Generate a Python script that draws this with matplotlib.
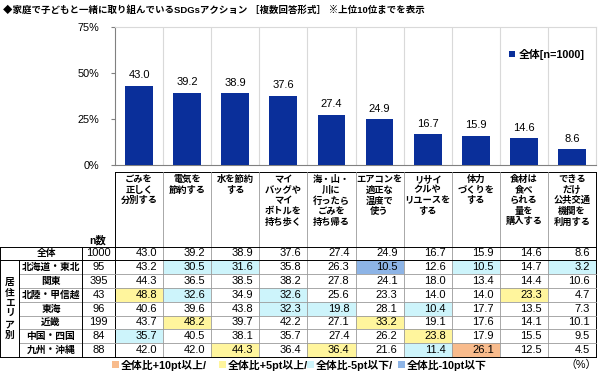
import matplotlib
matplotlib.use("Agg")
import matplotlib.pyplot as plt
from matplotlib.patches import Rectangle

plt.rcParams['font.family'] = ['Liberation Sans', 'Noto Sans CJK JP']

# data
actions = ["ごみを\n正しく\n分別する", "電気を\n節約する", "水を節約\nする",
           "マイ\nバッグや\nマイ\nボトルを\n持ち歩く", "海・山・\n川に\n行ったら\nごみを\n持ち帰る",
           "エアコンを\n適正な\n温度で\n使う", "リサイ\nクルや\nリユースを\nする",
           "体力\nづくりを\nする", "食材は\n食べ\nられる\n量を\n購入する",
           "できる\nだけ\n公共交通\n機関を\n利用する"]
total = [43.0, 39.2, 38.9, 37.6, 27.4, 24.9, 16.7, 15.9, 14.6, 8.6]
total_n = 1000

regions = ["北海道・東北", "関東", "北陸・甲信越", "東海", "近畿", "中国・四国", "九州・沖縄"]
region_n = [95, 395, 43, 96, 199, 84, 88]
hokkaido = [43.2, 30.5, 31.6, 35.8, 26.3, 10.5, 12.6, 10.5, 14.7, 3.2]
kanto = [44.3, 36.5, 38.5, 38.2, 27.8, 24.1, 18.0, 13.4, 14.4, 10.6]
hokuriku = [48.8, 32.6, 34.9, 32.6, 25.6, 23.3, 14.0, 14.0, 23.3, 4.7]
tokai = [40.6, 39.6, 43.8, 32.3, 19.8, 28.1, 10.4, 17.7, 13.5, 7.3]
kinki = [43.7, 48.2, 39.7, 42.2, 27.1, 33.2, 19.1, 17.6, 14.1, 10.1]
chugoku = [35.7, 40.5, 38.1, 35.7, 27.4, 26.2, 23.8, 17.9, 15.5, 9.5]
kyushu = [42.0, 42.0, 44.3, 36.4, 36.4, 21.6, 11.4, 26.1, 12.5, 4.5]
region_vals = [hokkaido, kanto, hokuriku, tokai, kinki, chugoku, kyushu]

BAR = "#0a2f9a"
C_UP10, C_UP5, C_DN5, C_DN10 = "#f8bb8c", "#fff59d", "#cdf4fb", "#8db4e6"

W, H = 600, 373
fig = plt.figure(figsize=(6, 3.73), dpi=100)

# pixel layout
x0, x1 = 115, 596
y_top, y_zero = 27, 165
colw = (x1 - x0) / 10

ax = fig.add_axes([x0 / W, 1 - y_zero / H, (x1 - x0) / W, (y_zero - y_top) / H])
xs = list(range(10))
bars = ax.bar(xs, total, width=0.58, color=BAR, label="全体[n=1000]", zorder=3)
for x, v in zip(xs, total):
    ax.text(x, v + 3, f"{v:.1f}", ha="center", va="bottom", fontsize=8)
ax.set_xlim(-0.5, 9.5)
ax.set_ylim(0, 75)
ax.set_yticks([0, 25, 50, 75])
ax.set_yticklabels(["0%", "25%", "50%", "75%"], fontsize=7.8)
ax.tick_params(axis="y", length=3, color="#808080", pad=8)
ax.set_xticks([])
for x in range(9):
    ax.axvline(x + 0.5, color="#d9d9d9", lw=0.8, zorder=1)
ax.spines["left"].set_color("#808080")
ax.spines["bottom"].set_color("#808080")
ax.spines["top"].set_color("#d9d9d9")
ax.spines["right"].set_color("#d9d9d9")
ax.legend(loc="upper right", bbox_to_anchor=(594 / W, 1 - 39 / H), bbox_transform=fig.transFigure,
          frameon=False, handlelength=0.55, handleheight=0.55, handletextpad=0.3,
          prop={"size": 7.8, "weight": "bold"})

# table overlay
t = fig.add_axes([0, 0, 1, 1])
t.set_xlim(0, W)
t.set_ylim(H, 0)
t.axis("off")

t.text(3, 10, "◆家庭で子どもと一緒に取り組んでいるSDGsアクション ［複数回答形式］ ※上位10位までを表示",
       fontsize=6.8, fontweight="bold", va="center", ha="left")

# header
h_top, h_bot = 172, 246.5
rowh = 13.8
for i, lab in enumerate(actions):
    t.text(x0 + colw * (i + 0.5), 175, lab, ha="center", va="top", fontsize=6.7,
           fontweight="bold", linespacing=1.22)
t.text(98, 240, "n数", ha="center", va="center", fontsize=7.5, fontweight="bold")

t_bot = h_bot + rowh * 8


def cell_color(d):
    if d >= 10 - 1e-9:
        return C_UP10
    if d >= 5 - 1e-9:
        return C_UP5
    if d <= -10 + 1e-9:
        return C_DN10
    if d <= -5 + 1e-9:
        return C_DN5
    return None


rows = [("全体", total_n, total)] + list(zip(regions, region_n, region_vals))
for r, (name, n, vals) in enumerate(rows):
    yc = h_bot + rowh * (r + 0.5)
    if r == 0:
        t.text(47, yc, name, ha="center", va="center", fontsize=7, fontweight="bold")
    else:
        t.text(51, yc, name, ha="center", va="center", fontsize=7, fontweight="bold")
    t.text(98.5, yc, str(n), ha="center", va="center", fontsize=8)
    for i, v in enumerate(vals):
        if r > 0:
            c = cell_color(v - total[i])
            if c:
                t.add_patch(Rectangle((x0 + colw * i, h_bot + rowh * r), colw, rowh,
                                      facecolor=c, edgecolor="none", zorder=0))
        t.text(x0 + colw * (i + 1) - 6, yc, f"{v:.1f}", ha="right", va="center", fontsize=8)

t.text(10, h_bot + rowh * 4.5, "居\n住\nエ\nリ\nア\n別", ha="center", va="center",
       fontsize=7, fontweight="bold", linespacing=1.08)

# table lines
lk = dict(color="black", lw=0.7)
lg = dict(color="#9a9a9a", lw=0.6)
t.plot([x0, x1], [h_top, h_top], **lk)
for i in range(11):
    t.plot([x0 + colw * i] * 2, [h_top, t_bot], **(lk if i in (0, 10) else lg))
t.plot([0, x1], [h_bot, h_bot], **lk)
t.plot([0, x1], [h_bot + rowh, h_bot + rowh], **lk)
for r in range(2, 8):
    t.plot([19, x1], [h_bot + rowh * r] * 2, **lg)
t.plot([0, x1], [t_bot, t_bot], **lk)
t.plot([0, 0], [h_bot, t_bot], **lk)
t.plot([19, 19], [h_bot + rowh, t_bot], **lk)
t.plot([82, 82], [h_bot, t_bot], **lk)

# bottom legend
leg_items = [(C_UP10, "全体比+10pt以上/", 112), (C_UP5, "全体比+5pt以上/", 219),
             (C_DN5, "全体比-5pt以下/", 307), (C_DN10, "全体比-10pt以下", 398)]
for c, lab, lx in leg_items:
    t.add_patch(Rectangle((lx, 361), 7, 7, facecolor=c, edgecolor="none"))
    t.text(lx + 9, 365, lab, ha="left", va="center", fontsize=7.8, fontweight="bold")
t.text(597, 365, "（%）", ha="right", va="center", fontsize=7.8)

fig.savefig("out.png", dpi=100)
